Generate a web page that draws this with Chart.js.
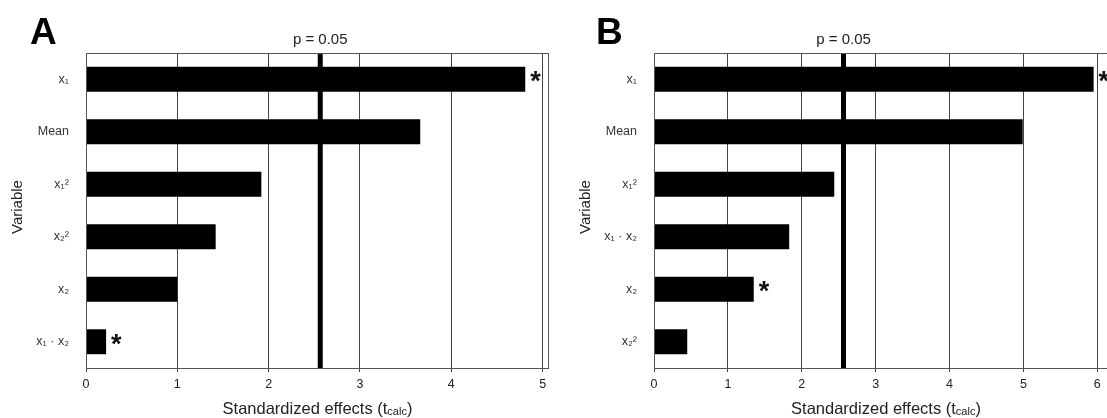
<!DOCTYPE html>
<html>
<head>
<meta charset="utf-8">
<script src="https://cdn.jsdelivr.net/npm/chart.js@4.4.1/dist/chart.umd.min.js"></script>
<style>
  html, body { margin: 0; padding: 0; background: #fff; overflow: hidden; width: 1107px; height: 418px; }
  .panel { position: absolute; top: 0; height: 418px; }
  #panelA { left: 0; width: 553px; }
  #panelB { left: 568px; width: 560px; }
</style>
</head>
<body>
<div class="panel" id="panelA"><canvas id="chartA" width="553" height="418"></canvas></div>
<div class="panel" id="panelB"><canvas id="chartB" width="560" height="418"></canvas></div>
<script>
// Pareto charts of standardized effects (t values) for the two models.
const categoriesA = ['x\u2081', 'Mean', 'x\u2081\u00b2', 'x\u2082\u00b2', 'x\u2082', 'x\u2081 \u00b7 x\u2082'];
const effectsA    = [4.81, 3.66, 1.92, 1.42, 1.00, 0.22];
const starredA    = ['x\u2081', 'x\u2081 \u00b7 x\u2082'];

const categoriesB = ['x\u2081', 'Mean', 'x\u2081\u00b2', 'x\u2081 \u00b7 x\u2082', 'x\u2082', 'x\u2082\u00b2'];
const effectsB    = [5.95, 4.99, 2.44, 1.83, 1.35, 0.45];
const starredB    = ['x\u2081', 'x\u2082'];

const criticalT   = 2.565;          // t value at p = 0.05
const criticalLbl = 'p = 0.05';
const xTicksA     = [0, 1, 2, 3, 4, 5];
const xTicksB     = [0, 1, 2, 3, 4, 5, 6];

const FONT = "'Liberation Sans', Arial, Helvetica, sans-serif";

// Frame, critical-value line, significance marks, axis titles and panel letter.
const decorations = {
  id: 'decorations',
  beforeDatasetsDraw(chart, args, opts) {
    const { ctx, chartArea: a, scales: { x } } = chart;
    const px = x.getPixelForValue(opts.crit);
    ctx.save();
    ctx.fillStyle = '#000';
    ctx.fillRect(px - 2.5, a.top, 5, a.bottom - a.top);
    ctx.restore();
  },
  afterDraw(chart, args, opts) {
    const { ctx, chartArea: a, scales: { x, y } } = chart;
    ctx.save();

    // plot frame
    ctx.strokeStyle = '#555';
    ctx.lineWidth = 1;
    ctx.strokeRect(Math.round(a.left) + 0.5, Math.round(a.top) + 0.5,
                   Math.round(a.right - a.left) - 1, Math.round(a.bottom - a.top));

    // critical line label
    const px = x.getPixelForValue(opts.crit);
    ctx.fillStyle = '#222';
    ctx.font = '15px ' + FONT;
    ctx.textAlign = 'center';
    ctx.textBaseline = 'alphabetic';
    ctx.fillText(opts.critLabel, px, 44);

    // asterisks after significant effects
    ctx.font = 'bold 27px ' + FONT;
    ctx.textAlign = 'left';
    const m = ctx.measureText('*');
    const ds = chart.data.datasets[0];
    chart.data.labels.forEach((lab, i) => {
      if (!opts.starred.includes(lab)) return;
      const xe = x.getPixelForValue(ds.data[i]);
      const yc = y.getPixelForValue(i) - 2.5;
      const base = yc + (m.actualBoundingBoxAscent - m.actualBoundingBoxDescent) / 2;
      ctx.fillStyle = '#111';
      ctx.fillText('*', xe + 5 + m.actualBoundingBoxLeft, base);
    });

    // x-axis title with subscript
    const main = 'Standardized effects (t', sub = 'calc', close = ')';
    const mainFont = '16.5px ' + FONT, subFont = '11px ' + FONT;
    ctx.font = mainFont; const w1 = ctx.measureText(main).width, w3 = ctx.measureText(close).width;
    ctx.font = subFont;  const w2 = ctx.measureText(sub).width;
    let tx = (a.left + a.right) / 2 - (w1 + w2 + w3) / 2;
    const ty = 414;
    ctx.fillStyle = '#222';
    ctx.font = mainFont; ctx.fillText(main, tx, ty); tx += w1;
    ctx.font = subFont;  ctx.fillText(sub, tx, ty + 1); tx += w2;
    ctx.font = mainFont; ctx.fillText(close, tx, ty);

    // y-axis title
    ctx.save();
    ctx.translate(18, 207);
    ctx.rotate(-Math.PI / 2);
    ctx.textAlign = 'center';
    ctx.textBaseline = 'middle';
    ctx.font = '15px ' + FONT;
    ctx.fillText('Variable', 0, 0);
    ctx.restore();

    // panel letter
    ctx.font = 'bold 37px ' + FONT;
    ctx.fillStyle = '#000';
    ctx.textAlign = 'left';
    ctx.textBaseline = 'alphabetic';
    const lm = ctx.measureText(opts.letter);
    ctx.fillText(opts.letter, 30 + lm.actualBoundingBoxLeft, 44);

    ctx.restore();
  }
};

function makeChart(id, labels, values, starred, ticks, xMax, rightPad, letter) {
  return new Chart(document.getElementById(id), {
    type: 'bar',
    data: {
      labels: labels,
      datasets: [{
        data: values,
        backgroundColor: '#000',
        borderWidth: 0,
        categoryPercentage: 1,
        barPercentage: 0.475
      }]
    },
    options: {
      indexAxis: 'y',
      responsive: false,
      animation: false,
      devicePixelRatio: 1,
      layout: { padding: { left: 0, right: rightPad, top: 53, bottom: 0 } },
      plugins: {
        legend: { display: false },
        tooltip: { enabled: false },
        decorations: { crit: criticalT, critLabel: criticalLbl, starred: starred, letter: letter }
      },
      scales: {
        x: {
          type: 'linear',
          min: 0,
          max: xMax,
          afterFit(scale) { scale.height = 50; },
          afterBuildTicks(scale) { scale.ticks = ticks.map(v => ({ value: v })); },
          ticks: {
            includeBounds: false,
            color: '#222',
            font: { family: FONT, size: 12.5 },
            padding: 5
          },
          grid: { color: '#444', lineWidth: 1, tickLength: 4, drawOnChartArea: true },
          border: { display: false }
        },
        y: {
          afterFit(scale) { scale.width = 86; },
          ticks: {
            color: '#333',
            font: { family: FONT, size: 12.5 },
            padding: 17
          },
          grid: { display: false, drawTicks: false },
          border: { display: false }
        }
      }
    },
    plugins: [decorations]
  });
}

makeChart('chartA', categoriesA, effectsA, starredA, xTicksA, 5.07, 4, 'A');
makeChart('chartB', categoriesB, effectsB, starredB, xTicksB, 6.28, 10, 'B');
</script>
</body>
</html>
